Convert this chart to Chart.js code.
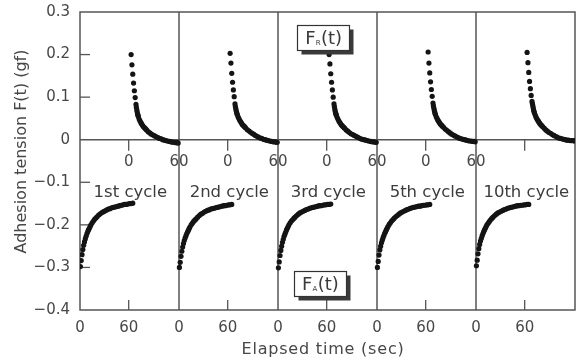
<!DOCTYPE html>
<html>
<head>
<meta charset="utf-8">
<script src="https://cdn.jsdelivr.net/npm/chart.js@4"></script>
<style>
html,body{margin:0;padding:0;background:#fff;}
#wrap{width:583px;height:364px;}
</style>
</head>
<body>
<div id="wrap"><canvas id="c" width="583" height="364"></canvas></div>
<script>
// ---------------- data ----------------
const cycleLabels = ["1st cycle", "2nd cycle", "3rd cycle", "5th cycle", "10th cycle"];

// time (s) within the release phase F_R(t)
const tRelease = [3,4,5,6,7,8,9,9.5,10,10.5,11,11.5,12,13,14,15,16,17,18,19,20,21,22,24,26,28,30,32,34,36,38,40,42,44,46,48,50,52,54,56,58,60,61];
const fr1  = [.200,.176,.154,.133,.115,.099,.083,.076,.070,.065,.060,.057,.054,.048,.044,.040,.037,.034,.031,.029,.027,.025,.023,.019,.016,.013,.011,.009,.007,.005,.003,.002,.000,-.001,-.002,-.003,-.004,-.005,-.006,-.006,-.007,-.007,-.008];
const fr2  = [.203,.180,.156,.135,.117,.101,.084,.078,.073,.068,.064,.061,.058,.053,.049,.045,.042,.039,.036,.034,.032,.030,.028,.024,.021,.018,.015,.013,.010,.008,.006,.004,.003,.001,.000,-.001,-.002,-.003,-.004,-.005,-.005,-.006,-.006];
const fr3  = [.200,.178,.155,.135,.117,.100,.084,.078,.072,.067,.063,.060,.057,.052,.048,.044,.041,.038,.035,.033,.031,.029,.027,.023,.020,.017,.014,.012,.010,.008,.006,.004,.002,.001,.000,-.001,-.002,-.003,-.004,-.005,-.005,-.006,-.006];
const fr5  = [.206,.180,.157,.136,.118,.102,.086,.080,.075,.070,.066,.062,.059,.054,.050,.046,.043,.040,.037,.035,.033,.031,.029,.025,.022,.019,.016,.013,.011,.009,.007,.005,.003,.002,.001,.000,-.001,-.002,-.003,-.003,-.004,-.004,-.005];
const fr10 = [.205,.181,.158,.137,.120,.104,.090,.085,.080,.075,.070,.066,.063,.058,.053,.049,.046,.043,.040,.037,.035,.033,.031,.027,.023,.020,.017,.015,.012,.010,.008,.006,.004,.003,.002,.001,.000,-.001,-.001,-.002,-.002,-.002,-.003];

// time (s) within the attachment phase F_A(t)
const tAttach = [0.5,1.5,2.5,3.5,4.5,5.5,6.5,7.5,8.5,9.5,10.5,11.5,12.5,13.5,15,16.5,18,19.5,21,23,25,27,29,31,33,35,37,39,41,43,45,47,49,51,53,55,57,59,61,63,65];
const fa1  = [-.298,-.284,-.270,-.258,-.248,-.240,-.233,-.227,-.221,-.216,-.212,-.208,-.204,-.200,-.195,-.191,-.187,-.184,-.181,-.177,-.174,-.171,-.169,-.167,-.165,-.163,-.162,-.160,-.159,-.158,-.157,-.156,-.155,-.154,-.153,-.152,-.152,-.151,-.150,-.150,-.149];
const fa2  = [-.300,-.288,-.274,-.262,-.252,-.244,-.237,-.231,-.226,-.221,-.217,-.213,-.209,-.205,-.200,-.196,-.192,-.189,-.186,-.182,-.178,-.175,-.173,-.170,-.168,-.166,-.165,-.163,-.162,-.161,-.160,-.159,-.158,-.157,-.156,-.155,-.155,-.154,-.153,-.153,-.152];
const fa3  = [-.301,-.287,-.272,-.260,-.250,-.241,-.234,-.227,-.222,-.217,-.212,-.208,-.204,-.200,-.195,-.191,-.188,-.185,-.182,-.178,-.175,-.172,-.170,-.168,-.166,-.164,-.163,-.161,-.160,-.159,-.158,-.157,-.156,-.155,-.155,-.154,-.153,-.153,-.152,-.152,-.151];
const fa5  = [-.300,-.286,-.271,-.259,-.250,-.242,-.236,-.230,-.225,-.220,-.216,-.212,-.208,-.204,-.199,-.195,-.191,-.188,-.185,-.181,-.178,-.175,-.172,-.170,-.168,-.166,-.164,-.163,-.161,-.160,-.159,-.158,-.157,-.156,-.156,-.155,-.154,-.154,-.153,-.153,-.152];
const fa10 = [-.296,-.283,-.268,-.256,-.246,-.238,-.232,-.226,-.221,-.216,-.212,-.208,-.204,-.200,-.196,-.192,-.188,-.185,-.182,-.178,-.175,-.172,-.170,-.168,-.166,-.164,-.163,-.161,-.160,-.159,-.158,-.157,-.156,-.155,-.155,-.154,-.154,-.153,-.153,-.152,-.152];

const releaseSeries = [fr1, fr2, fr3, fr5, fr10];
const attachSeries  = [fa1, fa2, fa3, fa5, fa10];

// tick labels
const yTickValues = [-0.4,-0.3,-0.2,-0.1,0,0.1,0.2,0.3];
const yTickLabels = ["\u22120.4","\u22120.3","\u22120.2","\u22120.1","0","0.1","0.2","0.3"];
const bottomTickLabels = ["0","60","0","60","0","60","0","60","0","60"];
const midTickLabels    = ["0","60","0","60","0","60","0","60",""];
const yInnerTicks = [0.2,0.1,-0.1,-0.2,-0.3];

// ---------------- layout constants ----------------
const W = 122;          // seconds spanned by each cycle panel
const RELEASE_OFFSET = 60;
const nCycles = cycleLabels.length;
const bottomTickValues = [];
for (let i = 0; i < nCycles; i++) bottomTickValues.push(i*W, i*W + 60);
const midTickValues = [];
for (let i = 0; i < nCycles; i++) { midTickValues.push(i*W + RELEASE_OFFSET); if (i < nCycles-1) midTickValues.push((i+1)*W); }
const dividers = [];
for (let i = 1; i < nCycles; i++) dividers.push(i*W);

const LINE = '#555';
const TEXT = '#474747';
const FONT = "'DejaVu Sans', sans-serif";

const datasets = [];
for (let i = 0; i < nCycles; i++) {
  datasets.push({
    label: cycleLabels[i] + ' F_R',
    data: tRelease.map((t, k) => ({x: i*W + RELEASE_OFFSET + t, y: releaseSeries[i][k]}))
  });
  datasets.push({
    label: cycleLabels[i] + ' F_A',
    data: tAttach.map((t, k) => ({x: i*W + t, y: attachSeries[i][k]}))
  });
}
datasets.forEach(d => Object.assign(d, {
  showLine: false, pointRadius: 2.6, pointBorderWidth: 0,
  pointBackgroundColor: '#141414', backgroundColor: '#141414', borderColor: '#141414'
}));

function line(ctx, x1, y1, x2, y2) { ctx.beginPath(); ctx.moveTo(x1, y1); ctx.lineTo(x2, y2); ctx.stroke(); }

function drawBox(ctx, cx, cy, sub) {
  const w = 52, h = 25;
  const x0 = Math.round(cx - w/2) + 0.5, y0 = Math.round(cy - h/2) + 0.5;
  ctx.fillStyle = '#3a3a3a';
  ctx.fillRect(x0 + 4, y0 + 4, w, h);
  ctx.fillStyle = '#fff';
  ctx.fillRect(x0, y0, w, h);
  ctx.strokeStyle = '#333'; ctx.lineWidth = 1.2;
  ctx.strokeRect(x0, y0, w, h);
  ctx.fillStyle = '#3a3a3a';
  ctx.textBaseline = 'alphabetic'; ctx.textAlign = 'left';
  ctx.font = "18px " + FONT; const wF = ctx.measureText('F').width; const wT = ctx.measureText('(t)').width;
  ctx.font = "7px " + FONT; const wS = ctx.measureText(sub).width;
  let sx = cx - (wF + wS + wT)/2;
  const base = cy + 6.5;
  ctx.font = "18px " + FONT; ctx.fillText('F', sx, base); sx += wF;
  ctx.font = "7px " + FONT; ctx.fillText(sub, sx, base + 1); sx += wS + 0.5;
  ctx.font = "18px " + FONT; ctx.fillText('(t)', sx, base);
}

const decor = {
  id: 'decor',
  beforeDatasetsDraw(chart) {
    const {ctx, chartArea: a, scales: {x, y}} = chart;
    ctx.save();
    ctx.strokeStyle = LINE; ctx.lineWidth = 1.5;
    ctx.strokeRect(a.left, a.top, a.right - a.left, a.bottom - a.top);
    dividers.forEach(v => { const px = x.getPixelForValue(v); line(ctx, px, a.top, px, a.bottom); });
    const y0 = y.getPixelForValue(0);
    line(ctx, a.left, y0, a.right, y0);
    ctx.lineWidth = 1.3;
    yInnerTicks.forEach(v => { const py = y.getPixelForValue(v); line(ctx, a.left, py, a.left + 10, py); });
    for (let i = 0; i < nCycles; i++) {
      const px = x.getPixelForValue(i*W + 60);
      line(ctx, px, a.bottom, px, a.bottom - 10);
      const pm = x.getPixelForValue(i*W + RELEASE_OFFSET);
      line(ctx, pm, y0, pm, y0 + 11);
    }
    ctx.restore();
  },
  afterDatasetsDraw(chart) {
    const {ctx, scales: {x, y}} = chart;
    ctx.save();
    ctx.fillStyle = '#3c3c3c';
    ctx.font = "16.5px " + FONT;
    ctx.textAlign = 'center'; ctx.textBaseline = 'alphabetic';
    for (let i = 0; i < nCycles; i++) {
      ctx.fillText(cycleLabels[i], x.getPixelForValue(i*W + 62), y.getPixelForValue(-0.1335));
    }
    drawBox(ctx, x.getPixelForValue(2*W + 56), y.getPixelForValue(0.2405), 'R');
    drawBox(ctx, x.getPixelForValue(2*W + 52), y.getPixelForValue(-0.3375), 'A');
    // axis titles
    ctx.fillStyle = TEXT;
    ctx.font = "16px " + FONT;
    ctx.textAlign = 'center'; ctx.textBaseline = 'middle';
    ctx.save();
    ctx.translate(22, 151.5); ctx.rotate(-Math.PI/2);
    ctx.fillText('Adhesion tension F(t) (gf)', 0, 0);
    ctx.restore();
    ctx.letterSpacing = '0.8px';
    ctx.fillText('Elapsed time (sec)', 323, 350);
    ctx.restore();
  }
};

Chart.defaults.font.family = FONT;
Chart.defaults.font.size = 15;
Chart.defaults.color = TEXT;

new Chart(document.getElementById('c'), {
  type: 'scatter',
  data: { datasets },
  options: {
    responsive: false, animation: false, events: [],
    layout: { padding: { top: 12, right: 8, left: 0, bottom: 0 } },
    plugins: { legend: { display: false }, tooltip: { enabled: false } },
    scales: {
      x: {
        type: 'linear', position: 'bottom', min: 0, max: nCycles*W,
        grid: { display: false, drawTicks: false }, border: { display: false },
        afterBuildTicks: s => { s.ticks = bottomTickValues.map(v => ({value: v})); },
        afterFit: s => { s.height = 54; s.paddingLeft = 0; s.paddingRight = 0; },
        ticks: { autoSkip: false, maxRotation: 0, minRotation: 0, padding: 9,
          callback: (v, i) => bottomTickLabels[i] }
      },
      x2: {
        type: 'linear', position: { y: 0 }, min: 0, max: nCycles*W,
        grid: { display: false, drawTicks: false }, border: { display: false },
        afterBuildTicks: s => { s.ticks = midTickValues.map(v => ({value: v})); },
        afterFit: s => { s.paddingLeft = 0; s.paddingRight = 0; },
        ticks: { autoSkip: false, maxRotation: 0, minRotation: 0, padding: 13,
          callback: (v, i) => midTickLabels[i] }
      },
      y: {
        type: 'linear', position: 'left', min: -0.4, max: 0.3,
        grid: { display: false, drawTicks: false }, border: { display: false },
        afterBuildTicks: s => { s.ticks = yTickValues.map(v => ({value: v})); },
        afterFit: s => { s.width = 80; s.paddingTop = 0; s.paddingBottom = 0; },
        ticks: { padding: 10, callback: (v, i) => yTickLabels[i] }
      }
    }
  },
  plugins: [decor]
});
</script>
</body>
</html>
